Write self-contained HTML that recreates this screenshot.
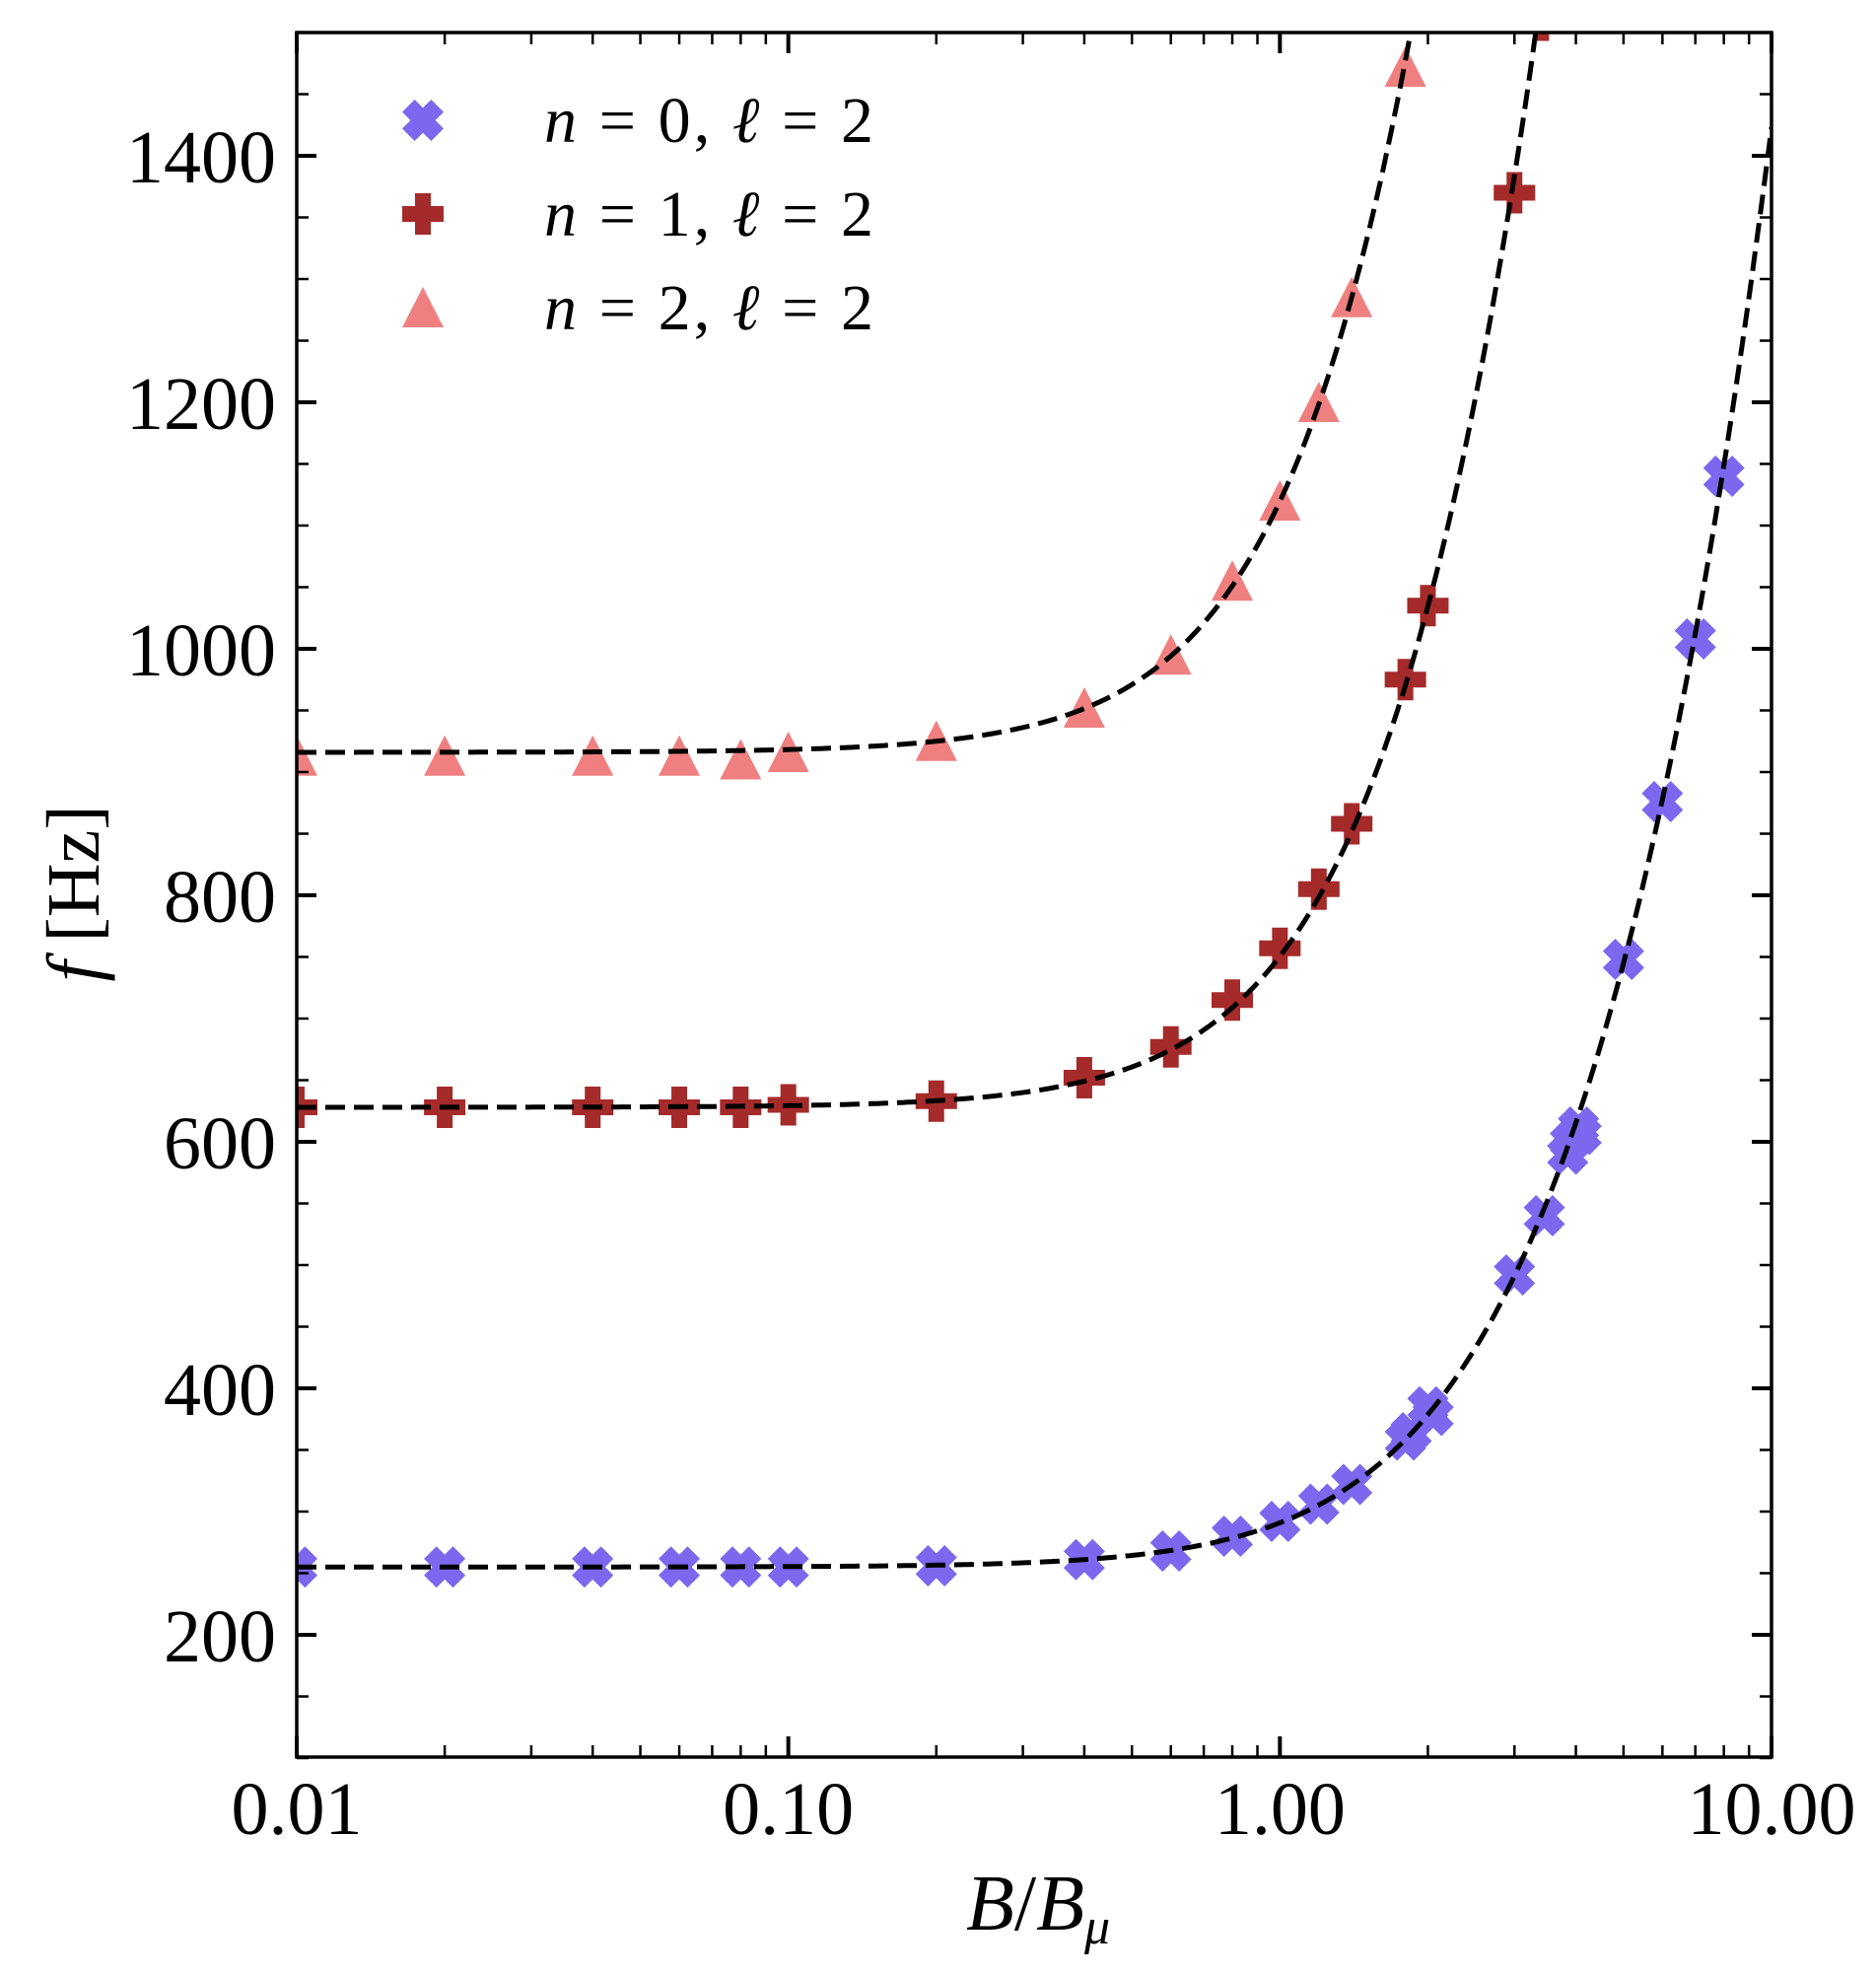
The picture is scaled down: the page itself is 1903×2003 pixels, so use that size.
<!DOCTYPE html>
<html><head><meta charset="utf-8">
<style>
html,body{margin:0;padding:0;background:#fff;}
svg{display:block;}
text{font-family:"Liberation Serif","DejaVu Serif",serif;fill:#000;}
</style></head>
<body>
<svg id="s" width="1903" height="2003" viewBox="0 0 1903 2003" xmlns="http://www.w3.org/2000/svg">
<defs><clipPath id="c"><rect x="301" y="33" width="1496" height="1749"/></clipPath></defs>
<g id="data" clip-path="url(#c)"></g>
<g id="lines" clip-path="url(#c)" fill="none" stroke="#000" stroke-width="5" stroke-dasharray="20,9"></g>
<rect x="301" y="33" width="1496" height="1749" fill="none" stroke="#000" stroke-width="3.5"/>
<g id="ticks" stroke="#000"></g>
<g id="labels" font-size="76"></g>
<text x="1053" y="1957" font-size="80" font-style="italic" text-anchor="middle">B<tspan font-style="normal">/</tspan>B<tspan font-size="52" dy="14">μ</tspan></text>
<text transform="translate(100,906) rotate(-90)" font-size="76" text-anchor="middle"><tspan font-style="italic">f</tspan> [Hz]</text>
<g id="legend"></g>
</svg>
<script>
var NS="http://www.w3.org/2000/svg";
function X(b){return 301+(Math.log10(b)+2)*1496/3;}
function Y(f){return 1658-(f-200)*1.25;}
function el(p,t,a,txt){var e=document.createElementNS(NS,t);for(var k in a)e.setAttribute(k,a[k]);if(txt!==undefined)e.textContent=txt;p.appendChild(e);return e;}
var ticks=document.getElementById('ticks'),labels=document.getElementById('labels');
for(var d=-2;d<=1;d++){for(var m=1;m<=9;m++){if(d==1&&m>1)break;var b=m*Math.pow(10,d),x=X(b);var L=(m==1)?21:12,w=(m==1)?4:2.5;
el(ticks,'line',{x1:x,x2:x,y1:1782,y2:1782-L,'stroke-width':w});el(ticks,'line',{x1:x,x2:x,y1:33,y2:33+L,'stroke-width':w});}}
var xl=['0.01','0.10','1.00','10.00'];for(var i=0;i<4;i++)el(labels,'text',{x:X(Math.pow(10,i-2)),y:1860,'text-anchor':'middle'},xl[i]);
for(var f=100;f<=1500;f+=50){var y=Y(f),maj=(f%200==0);var L=maj?20:12,w=maj?4:2.5;
el(ticks,'line',{x1:301,x2:301+L,y1:y,y2:y,'stroke-width':w});el(ticks,'line',{x1:1797,x2:1797-L,y1:y,y2:y,'stroke-width':w});
if(maj&&f>=200&&f<=1400)el(labels,'text',{x:280,y:y+27,'text-anchor':'end'},String(f));}
function mk(p,type,cx,cy,col){var s=21;
if(type=='x'){var a=s*0.6,pts=[[-s,-s+a],[-s+a,-s],[0,-a],[s-a,-s],[s,-s+a],[a,0],[s,s-a],[s-a,s],[0,a],[-s+a,s],[-s,s-a],[-a,0]];
el(p,'polygon',{points:pts.map(function(q){return (cx+q[0])+','+(cy+q[1]);}).join(' '),fill:col});}
else if(type=='p'){var a=s/3+1;el(p,'path',{d:'M'+(cx-a)+' '+(cy-s)+'h'+2*a+'v'+(s-a)+'h'+(s-a)+'v'+2*a+'h'+(-(s-a))+'v'+(s-a)+'h'+(-2*a)+'v'+(-(s-a))+'h'+(-(s-a))+'v'+(-2*a)+'h'+(s-a)+'z',fill:col});}
else{el(p,'polygon',{points:cx+','+(cy-s)+' '+(cx+s)+','+(cy+s*0.95)+' '+(cx-s)+','+(cy+s*0.95),fill:col});}}
var data=document.getElementById('data'),lines=document.getElementById('lines');
var series=[
{t:'x',c:'#7b68ee',f0:255,k:140,pts:[[0.01,255],[0.02,255],[0.04,255],[0.06,255],[0.08,255],[0.1,255],[0.2,256],[0.4,261],[0.6,268],[0.8,280],[1.0,292],[1.2,306],[1.4,322],[1.8,358],[1.85,364],[2.0,385],[2.05,378],[3.0,492],[3.45,540],[3.85,590],[3.9,600],[4.05,612],[4.1,606],[5,748],[6,876],[7,1008],[8,1140]]},
{t:'p',c:'#a52a2a',f0:628,k:411,pts:[[0.01,628],[0.02,628],[0.04,628],[0.06,628],[0.08,628],[0.1,630],[0.2,633],[0.4,652],[0.6,677],[0.8,715],[1.0,757],[1.2,805],[1.4,858],[1.8,975],[2.0,1035],[3.0,1370],[3.4,1510]]},
{t:'t',c:'#f08080',f0:916,k:644,pts:[[0.01,913],[0.02,913],[0.04,913],[0.06,913],[0.08,910],[0.1,916],[0.2,925],[0.4,952],[0.6,995],[0.8,1055],[1.0,1120],[1.2,1200],[1.4,1285],[1.8,1472]]}];
series.forEach(function(s){s.pts.forEach(function(p){mk(data,s.t,X(p[0]),Y(p[1]),s.c);});
var d='';for(var i=0;i<=600;i++){var lb=-2+3*i/600,b=Math.pow(10,lb),f=Math.sqrt(s.f0*s.f0+s.k*s.k*b*b);if(f>1600)break;d+=(i?'L':'M')+X(b).toFixed(1)+' '+Y(f).toFixed(1);}
el(lines,'path',{d:d});});
var lg=document.getElementById('legend');var names=['0','1','2'];
series.forEach(function(s,i){var y=122+95*i;mk(lg,s.t,429,y,s.c);
var t=el(lg,'text',{x:552,y:y+22,'font-size':66,textLength:334,lengthAdjust:'spacing'});
el(t,'tspan',{'font-style':'italic'},'n');el(t,'tspan',{},' = '+names[i]+', ');el(t,'tspan',{'font-style':'italic'},'ℓ');el(t,'tspan',{},' = 2');});
</script>
</body></html>
